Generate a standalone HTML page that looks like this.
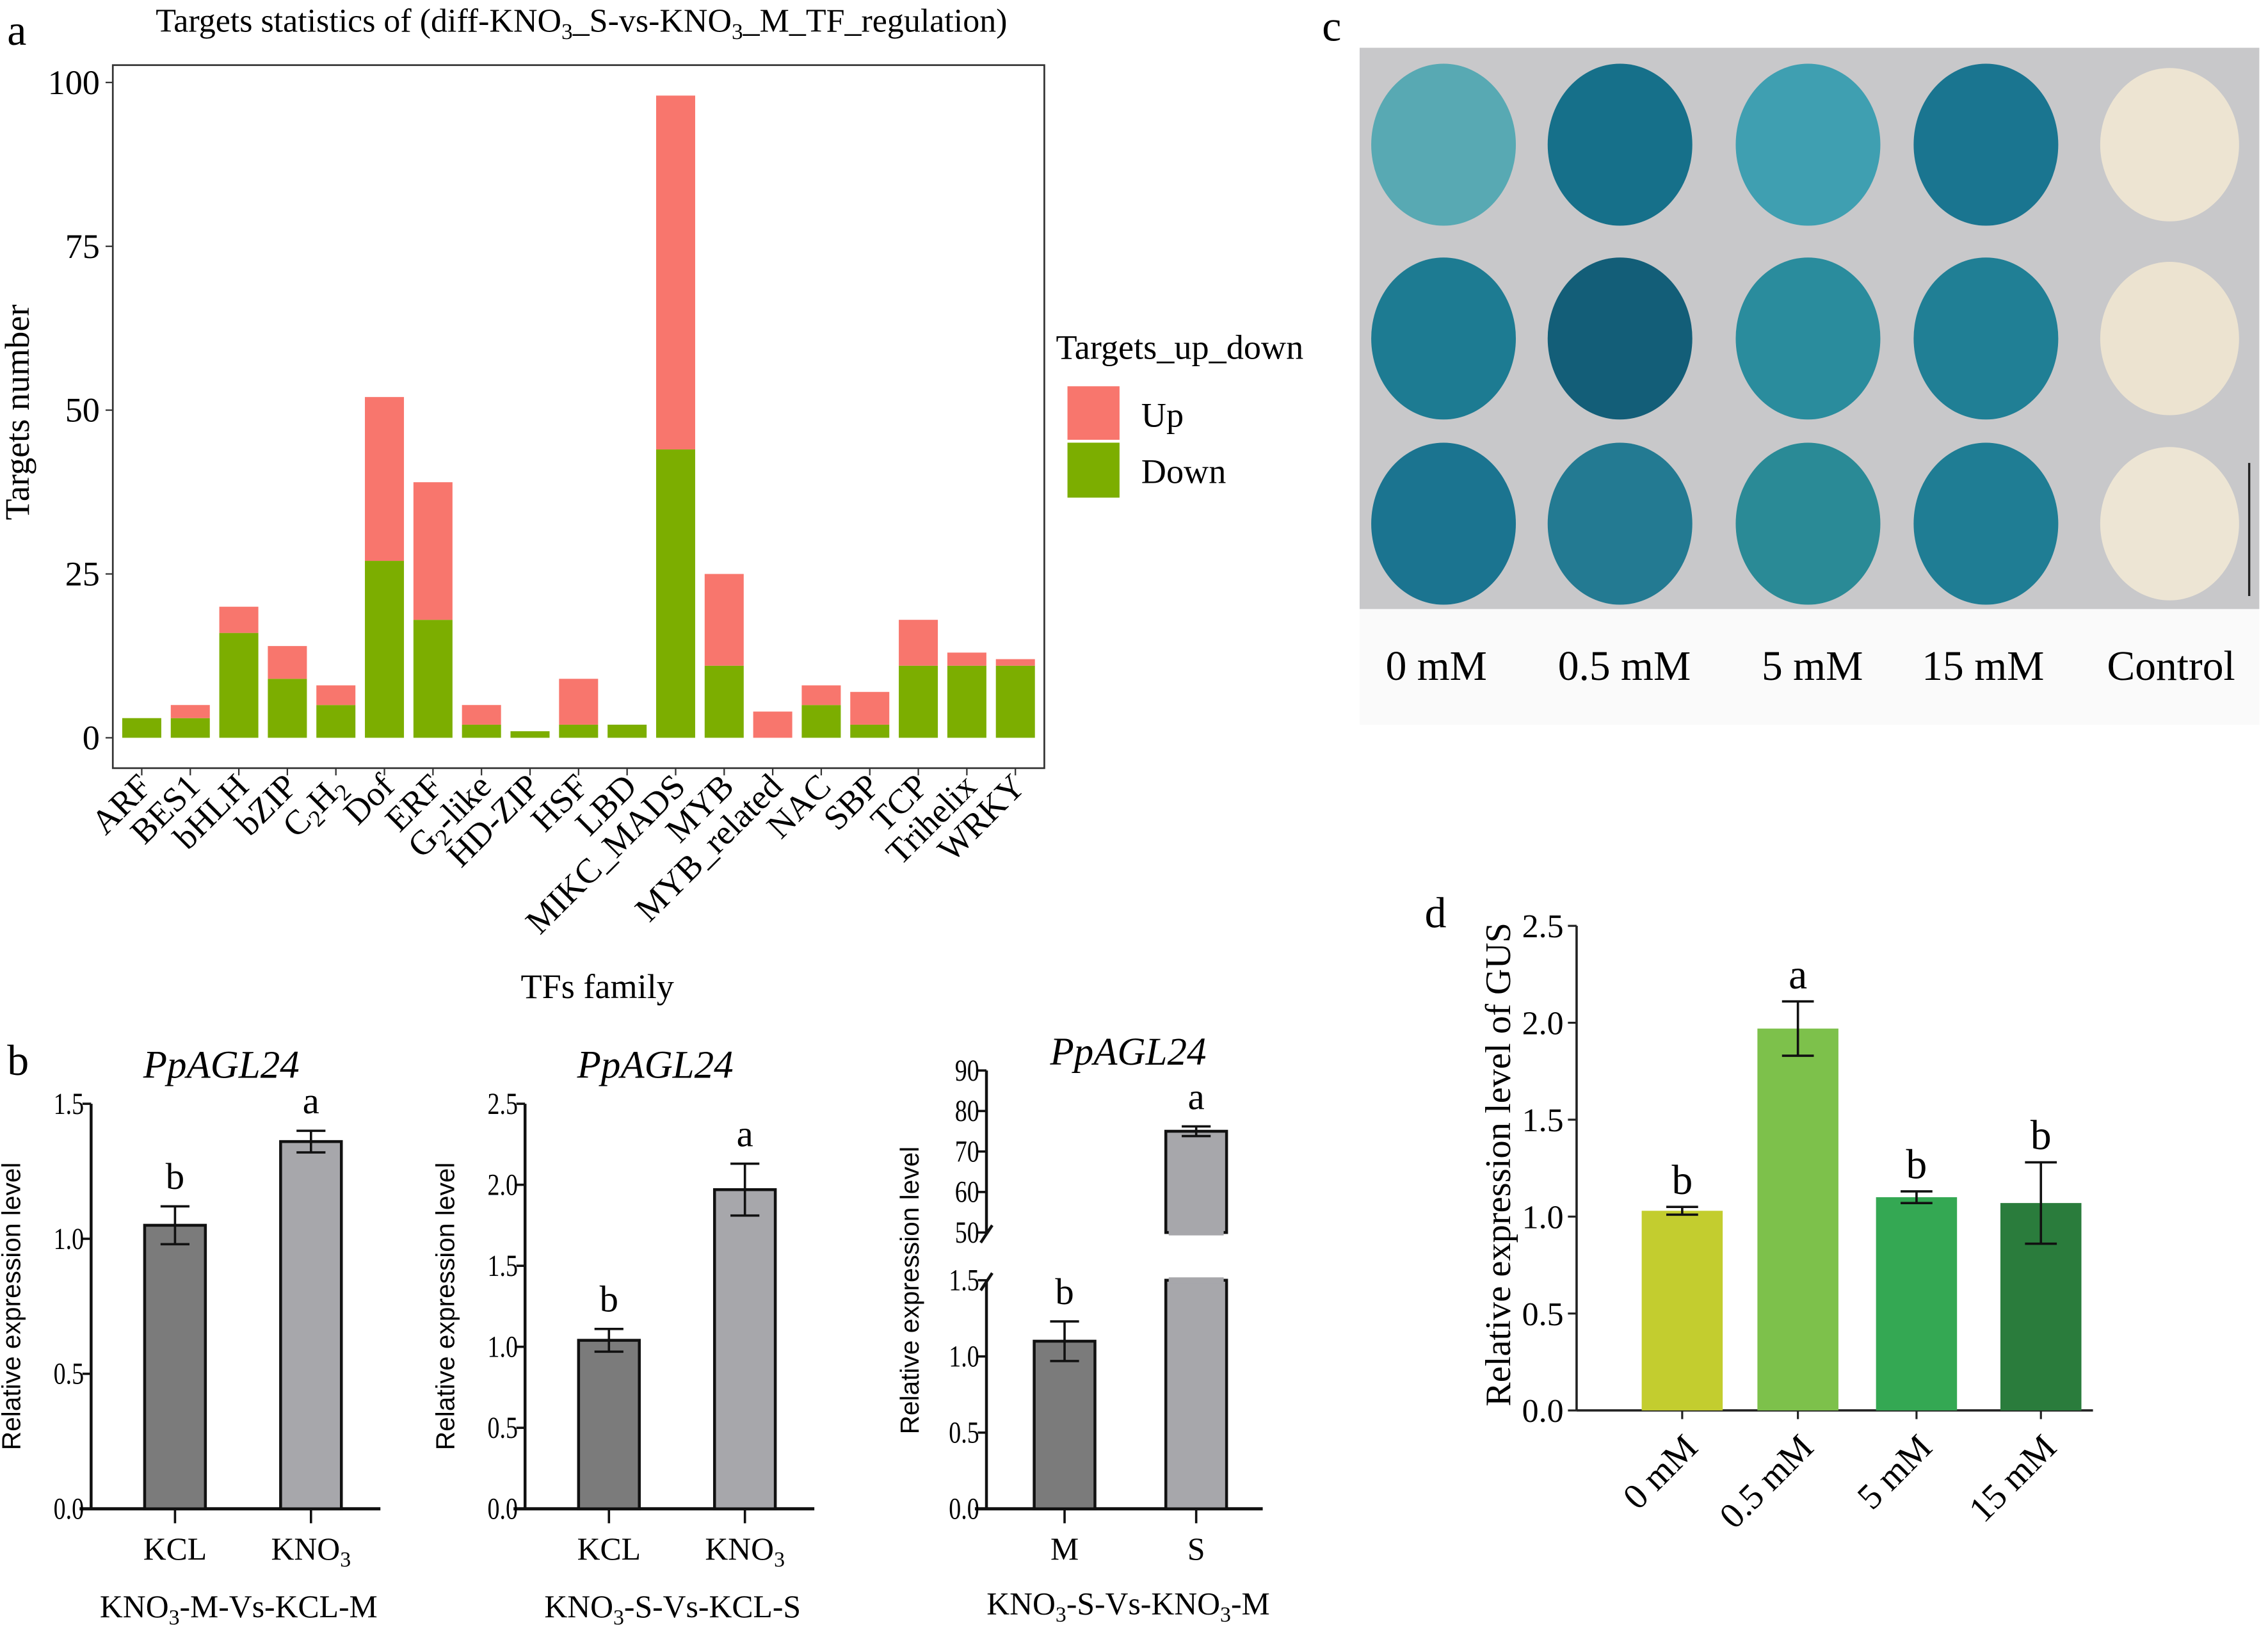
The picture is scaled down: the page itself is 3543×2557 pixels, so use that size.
<!DOCTYPE html>
<html><head><meta charset="utf-8">
<style>
html,body{margin:0;padding:0;background:#fff;}
svg{display:block;}
text{font-family:"Liberation Serif","DejaVu Serif",serif;}
</style></head>
<body>
<svg id="fig" xmlns="http://www.w3.org/2000/svg" width="3543" height="2557" viewBox="0 0 1568 1131.6">
<defs>
<radialGradient id="discg" cx="0.5" cy="0.55" r="0.55">
<stop offset="0" stop-color="#3d9aa6"/><stop offset="1" stop-color="#17718c"/>
</radialGradient>
</defs>
<rect x="0" y="0" width="1568" height="1132" fill="#fff"/>
<g id="pa"></g>
<g id="pb"></g>
<g id="pc"></g>
<g id="pd"></g>
</svg>
<script>
// ---------- Panel a data ----------
const aCategories = ["ARF","BES1","bHLH","bZIP","C2H2","Dof","ERF","G2-like","HD-ZIP","HSF","LBD","MIKC_MADS","MYB","MYB_related","NAC","SBP","TCP","Trihelix","WRKY"];
const aDown = [3,3,16,9,5,27,18,2,1,2,2,44,11,0,5,2,11,11,11];
const aUp = [0,2,4,5,3,25,21,3,0,7,0,54,14,4,3,5,7,2,1];
const aTicks = [0,25,50,75,100];
// ---------- Panel b data ----------
const b1Cats = ["KCL","KNO3"], b1Vals = [1.05,1.36], b1Err = [0.07,0.04], b1Letters = ["b","a"], b1Ticks = [0,0.5,1.0,1.5];
const b2Cats = ["KCL","KNO3"], b2Vals = [1.04,1.97], b2Err = [0.07,0.16], b2Letters = ["b","a"], b2Ticks = [0,0.5,1.0,1.5,2.0,2.5];
const b3Cats = ["M","S"], b3Vals = [1.1,75], b3Err = [0.13,1.2], b3Letters = ["b","a"], b3LowTicks = [0,0.5,1.0,1.5], b3HighTicks = [50,60,70,80,90];
// ---------- Panel d data ----------
const dCats = ["0 mM","0.5 mM","5 mM","15 mM"], dVals = [1.03,1.97,1.10,1.07], dErr = [0.02,0.14,0.03,0.21], dLetters = ["b","a","b","b"], dTicks = [0,0.5,1.0,1.5,2.0,2.5];
// ---------- Panel c ----------
const cLabels = ["0 mM","0.5 mM","5 mM","15 mM","Control"];

const NS="http://www.w3.org/2000/svg";
function mk(parent,tag,attrs,text){const e=document.createElementNS(NS,tag);for(const k in attrs)e.setAttribute(k,attrs[k]);if(text!==undefined)e.textContent=text;parent.appendChild(e);return e;}
function sub(parent,x,y,main,subs,opts){
  const t=mk(parent,"text",Object.assign({x:x,y:y},opts||{}));
  const parts=main.split("|");
  parts.forEach((p,i)=>{
    if(p==="") return;
    if(i%2===0){ mk(t,"tspan",i>0?{dy:-5}:{},p); }
    else { mk(t,"tspan",{dy:5,"font-size":"68%"},p); }
  });
  return t;
}

// ================= Panel a =================
(function(){
const g=document.getElementById("pa");
const L=78,R=722,T=45,B=531;
const y0=510,py=4.53;
const ys=v=>y0-v*py;
const x0=98,dx=(702-98)/(aCategories.length-1),bw=27;
const xs=i=>x0+i*dx;
let e=mk(g,"text",{x:5,y:31,"font-size":30},"a");

e=sub(g,402,22,"Targets statistics of (diff-KNO|3|_S-vs-KNO|3|_M_TF_regulation)",null,{"font-size":23,"text-anchor":"middle"});

e=mk(g,"rect",{x:L,y:T,width:R-L,height:B-T,fill:"#fff",stroke:"#333","stroke-width":1.2});

aTicks.forEach(v=>{
  mk(g,"line",{x1:L-5,x2:L,y1:ys(v),y2:ys(v),stroke:"#333"});
  const t=mk(g,"text",{x:L-9,y:ys(v)+8,"font-size":24,"text-anchor":"end"},v);
  
});
aCategories.forEach((c,i)=>{
  const x=xs(i);
  const d=mk(g,"rect",{x:x-bw/2,y:ys(aDown[i]),width:bw,height:aDown[i]*py,fill:"#7CAE00"});
  
  const u=mk(g,"rect",{x:x-bw/2,y:ys(aDown[i]+aUp[i]),width:bw,height:aUp[i]*py,fill:"#F8766D"});
  
  mk(g,"line",{x1:x,x2:x,y1:B,y2:B+5,stroke:"#333"});
  const lbl=c==="C2H2"?"C|2|H|2|":(c==="G2-like"?"G|2|-like":c);
  const t=sub(g,0,0,lbl,null,{"font-size":24,"text-anchor":"end",transform:`translate(${x+8},${B+14}) rotate(-45)`});
  
});
e=mk(g,"text",{x:413,y:690,"font-size":24,"text-anchor":"middle"},"TFs family");

e=mk(g,"text",{"font-size":24,"text-anchor":"middle",transform:"translate(20,285) rotate(-90)"},"Targets number");

e=mk(g,"text",{x:730,y:248,"font-size":24},"Targets_up_down");

e=mk(g,"rect",{x:738,y:267,width:36,height:37,fill:"#F8766D"});

e=mk(g,"rect",{x:738,y:306,width:36,height:38,fill:"#7CAE00"});

e=mk(g,"text",{x:789,y:295,"font-size":24},"Up");

e=mk(g,"text",{x:789,y:334,"font-size":24},"Down");

})();

// ================= Panel b =================
function errbar(g,x,yTop,yBot,w){
  mk(g,"line",{x1:x,x2:x,y1:yTop,y2:yBot,stroke:"#111","stroke-width":1.6});
  mk(g,"line",{x1:x-w,x2:x+w,y1:yTop,y2:yTop,stroke:"#111","stroke-width":1.6});
  mk(g,"line",{x1:x-w,x2:x+w,y1:yBot,y2:yBot,stroke:"#111","stroke-width":1.6});
}
function tickText(g,id,ax,y,label){
  const t=mk(g,"text",{x:(ax-5)/0.8,y:y+7,"font-size":21,"text-anchor":"end",transform:"scale(0.8,1)"},label);
  
}
function bChart(g,id,ax,xend,cats,vals,errs,letters,ticks,top,group){
  const y0=1043,ppu=(y0-763)/top;
  const ys=v=>y0-v*ppu;
  const centers=[ax+58,ax+152];
  const fills=["#7b7b7b","#a7a7ab"];
  mk(g,"line",{x1:ax,x2:ax,y1:763,y2:y0,stroke:"#111","stroke-width":2});
  mk(g,"line",{x1:ax-8,x2:xend,y1:y0,y2:y0,stroke:"#111","stroke-width":2.2});
  ticks.forEach(v=>{
    mk(g,"line",{x1:ax-6,x2:ax,y1:ys(v),y2:ys(v),stroke:"#111","stroke-width":1.6});
    tickText(g,id,ax,ys(v),v.toFixed(1));
  });
  cats.forEach((c,i)=>{
    const x=centers[i];
    const r=mk(g,"rect",{x:x-21,y:ys(vals[i]),width:42,height:vals[i]*ppu,fill:fills[i],stroke:"#111","stroke-width":2});
    
    errbar(g,x,ys(vals[i]+errs[i]),ys(vals[i]-errs[i]),10);
    const l=mk(g,"text",{x:x,y:ys(vals[i]+errs[i])-12,"font-size":26,"text-anchor":"middle"},letters[i]);
    
    mk(g,"line",{x1:x,x2:x,y1:y0,y2:y0+10,stroke:"#111","stroke-width":1.6});
    const t=sub(g,x,1078,c==="KNO3"?"KNO|3|":c,null,{"font-size":22,"text-anchor":"middle"});
    
  });
  let e=mk(g,"text",{x:ax+90,y:745,"font-size":27,"font-style":"italic","text-anchor":"middle"},"PpAGL24");
  
  e=mk(g,"text",{"font-size":18,"text-anchor":"middle",transform:`translate(${ax-49},903) rotate(-90)`,style:"font-family:'Liberation Sans',sans-serif"},"Relative expression level");
  
  e=sub(g,ax+102,1118,group,null,{"font-size":22,"text-anchor":"middle"});
  
}
(function(){
const g=document.getElementById("pb");
let e=mk(g,"text",{x:5,y:743,"font-size":30},"b");

const g1=mk(g,"g",{});
bChart(g1,"b1",63,263,b1Cats,b1Vals,b1Err,b1Letters,b1Ticks,1.5,"KNO|3|-M-Vs-KCL-M");
const g2=mk(g,"g",{});
bChart(g2,"b2",363,563,b2Cats,b2Vals,b2Err,b2Letters,b2Ticks,2.5,"KNO|3|-S-Vs-KCL-S");
const g3=mk(g,"g",{});
const ax=682,y0=1043,lowTopY=885,ppl=(y0-lowTopY)/1.5,hb=852,pph=(852-740)/40;
const yl=v=>y0-v*ppl, yh=v=>hb-(v-50)*pph;
mk(g3,"line",{x1:ax,x2:ax,y1:lowTopY,y2:y0,stroke:"#111","stroke-width":2});
mk(g3,"line",{x1:ax,x2:ax,y1:740,y2:hb,stroke:"#111","stroke-width":2});
mk(g3,"line",{x1:ax-4,x2:ax+4,y1:hb+7,y2:hb-5,stroke:"#111","stroke-width":2});
mk(g3,"line",{x1:ax-4,x2:ax+4,y1:lowTopY+7,y2:lowTopY-5,stroke:"#111","stroke-width":2});
mk(g3,"line",{x1:ax-8,x2:873,y1:y0,y2:y0,stroke:"#111","stroke-width":2.2});
b3LowTicks.forEach(v=>{
  mk(g3,"line",{x1:ax-6,x2:ax,y1:yl(v),y2:yl(v),stroke:"#111","stroke-width":1.6});
  tickText(g3,"b3",ax,yl(v),v.toFixed(1));
});
b3HighTicks.forEach(v=>{
  mk(g3,"line",{x1:ax-6,x2:ax,y1:yh(v),y2:yh(v),stroke:"#111","stroke-width":1.6});
  tickText(g3,"b3",ax,yh(v),String(v));
});
const centers=[ax+54,ax+145];
b3Cats.forEach((c,i)=>{
  const x=centers[i],v=b3Vals[i],er=b3Err[i];
  const fill=i===0?"#7b7b7b":"#a7a7ab";
  let r,ytop;
  if(v<=1.5){
    r=mk(g3,"rect",{x:x-21,y:yl(v),width:42,height:v*ppl,fill:fill,stroke:"#111","stroke-width":2});
    errbar(g3,x,yl(v+er),yl(v-er),10);ytop=yl(v+er);
  } else {
    r=mk(g3,"rect",{x:x-21,y:yh(v),width:42,height:hb-yh(v),fill:fill,stroke:"#111","stroke-width":2});
    mk(g3,"rect",{x:x-21,y:lowTopY,width:42,height:y0-lowTopY,fill:fill,stroke:"#111","stroke-width":2});
    mk(g3,"rect",{x:x-19,y:hb-2,width:38,height:4,fill:fill});
    mk(g3,"rect",{x:x-19,y:lowTopY-2,width:38,height:4,fill:fill});
    errbar(g3,x,yh(v+er),yh(v-er),10);ytop=yh(v+er);
  }
  const l=mk(g3,"text",{x:x,y:ytop-12,"font-size":26,"text-anchor":"middle"},b3Letters[i]);
  
  
  mk(g3,"line",{x1:x,x2:x,y1:y0,y2:y0+10,stroke:"#111","stroke-width":1.6});
  const t=mk(g3,"text",{x:x,y:1078,"font-size":22,"text-anchor":"middle"},c);
  
});
e=mk(g3,"text",{x:780,y:736,"font-size":27,"font-style":"italic","text-anchor":"middle"},"PpAGL24");

e=mk(g3,"text",{"font-size":18,"text-anchor":"middle",transform:`translate(${ax-47},892) rotate(-90)`,style:"font-family:'Liberation Sans',sans-serif"},"Relative expression level");

e=sub(g3,780,1116,"KNO|3|-S-Vs-KNO|3|-M",null,{"font-size":22,"text-anchor":"middle"});

})();

// ================= Panel c =================
(function(){
const g=document.getElementById("pc");
let e=mk(g,"text",{x:914,y:28,"font-size":30},"c");

mk(g,"rect",{x:940,y:421,width:622,height:80,fill:"#fafafa"});
e=mk(g,"rect",{x:940,y:33,width:622,height:388,fill:"#c8c8ca"});

const cx=[998,1120,1250,1373,1500], cy=[100,234,362];
const cols=[["#58a9b3","#16708a","#3f9fb1","#1a7590","#ede4d2"],
            ["#1d7b92","#135e78","#2a8c9d","#207f95","#ece3d0"],
            ["#1b7490","#237a92","#2a8a96","#1f7d94","#ede5d4"]];
cy.forEach((y,r)=>cx.forEach((x,c)=>{
  const d=mk(g,"ellipse",{cx:x,cy:y,rx:c===4?48:50,ry:c===4?53:56,fill:cols[r][c]});
  
  
}));
mk(g,"line",{x1:1555,x2:1555,y1:320,y2:412,stroke:"#222","stroke-width":1.5});
const lx=[993,1123,1253,1371,1501];
cLabels.forEach((t,i)=>{
  const l=mk(g,"text",{x:lx[i],y:470,"font-size":29,"text-anchor":"middle"},t);
  
});
})();

// ================= Panel d =================
(function(){
const g=document.getElementById("pd");
let e=mk(g,"text",{x:985,y:641,"font-size":30},"d");

const ax=1090,y0=975,ppu=(975-640)/2.5;
const ys=v=>y0-v*ppu;
const centers=[1163,1243,1325,1411];
const fills=["#c3cd2f","#7dc14b","#34a853","#2a7c3c"];
mk(g,"line",{x1:ax,x2:ax,y1:640,y2:y0,stroke:"#222","stroke-width":1.6});
mk(g,"line",{x1:ax,x2:1447,y1:y0,y2:y0,stroke:"#222","stroke-width":1.6});
dTicks.forEach(v=>{
  mk(g,"line",{x1:ax-6,x2:ax,y1:ys(v),y2:ys(v),stroke:"#222","stroke-width":1.4});
  const t=mk(g,"text",{x:ax-9,y:ys(v)+8,"font-size":23,"text-anchor":"end"},v.toFixed(1));
  
});
dCats.forEach((c,i)=>{
  const x=centers[i];
  const r=mk(g,"rect",{x:x-28,y:ys(dVals[i]),width:56,height:dVals[i]*ppu,fill:fills[i]});
  
  errbar(g,x,ys(dVals[i]+dErr[i]),ys(dVals[i]-dErr[i]),11);
  const l=mk(g,"text",{x:x,y:ys(dVals[i]+dErr[i])-9,"font-size":29,"text-anchor":"middle"},dLetters[i]);
  
  mk(g,"line",{x1:x,x2:x,y1:y0,y2:y0+6,stroke:"#222","stroke-width":1.4});
  const t=mk(g,"text",{"font-size":25,"text-anchor":"end",transform:`translate(${x+12},${y0+27}) rotate(-45)`},c);
  
});
e=mk(g,"text",{"font-size":25,"text-anchor":"middle",transform:"translate(1044,805) rotate(-90)"},"Relative expression level of GUS");

})();
</script>
</body></html>
